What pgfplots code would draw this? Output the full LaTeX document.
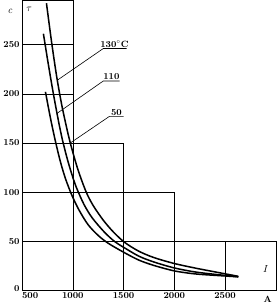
\documentclass[border=0pt]{standalone}
\usepackage{pgfplots}
\pgfplotsset{compat=1.18}
\begin{document}
\begin{tikzpicture}
\begin{axis}[
  scale only axis, width=250bp, height=286bp,
  xmin=500, xmax=3000, ymin=0, ymax=295,
  axis lines*=left, axis line style={line width=0.6pt},
  xtick={500,1000,1500,2000,2500}, ytick={0,50,100,150,200,250},
  xticklabels={\makebox[0pt][l]{500},1000,1500,2000,2500},
  yticklabels={\raisebox{4pt}{0},50,100,150,200,250},
  tick style={draw=none},
  tick label style={font=\small\bfseries},
  xticklabel style={yshift=2pt},
  yticklabel style={xshift=1pt},
  clip=false,
]
% staircase grid
\draw[line width=0.6pt] (axis cs:500,295) -- (axis cs:1000,295) -- (axis cs:1000,0);
\draw[line width=0.5pt] (axis cs:500,250) -- (axis cs:1000,250);
\draw[line width=0.5pt] (axis cs:500,200) -- (axis cs:1000,200);
\draw[line width=0.5pt] (axis cs:500,150) -- (axis cs:1500,150) -- (axis cs:1500,0);
\draw[line width=0.5pt] (axis cs:500,100) -- (axis cs:2000,100) -- (axis cs:2000,0);
\draw[line width=0.5pt] (axis cs:500,50) -- (axis cs:3000,50) -- (axis cs:3000,0);
\draw[line width=0.5pt] (axis cs:2500,50) -- (axis cs:2500,0);
% curves: 130 C
\addplot[black, line width=1.5pt, smooth] coordinates {
(740,292) (790,253) (840,218) (890,189) (940,165) (980,148) (1050,123) (1130,100.5) (1200,86.5) (1300,71.5) (1400,59.5) (1510,49) (1650,40) (1800,33.5) (2000,27.5) (2200,23) (2400,19) (2630,14.5)};
% 110 C
\addplot[black, line width=1.5pt, smooth] coordinates {
(710,261) (760,229) (810,199) (860,171.5) (900,152) (950,132) (1000,115) (1040,103.5) (1110,87.5) (1190,74) (1310,59.5) (1410,50) (1500,44) (1650,35) (1800,29) (2000,23) (2200,19) (2400,16.5) (2630,14)};
% 50 C
\addplot[black, line width=1.5pt, smooth] coordinates {
(730,202) (780,175) (830,151) (880,130) (930,113) (990,97) (1060,82) (1150,67) (1250,56) (1350,48) (1500,39) (1650,31) (1800,25.5) (2000,20) (2200,17) (2400,15.5) (2630,14)};
% labels with leaders
\draw[line width=0.6pt] (axis cs:1530,246) -- (axis cs:1300,246) -- (axis cs:850,214);
\node[anchor=south, font=\small\bfseries, inner sep=1pt] at (axis cs:1410,246) {130$^\circ$C};
\draw[line width=0.6pt] (axis cs:1460,213) -- (axis cs:1300,213) -- (axis cs:843,180);
\node[anchor=south, font=\small\bfseries, inner sep=1pt] at (axis cs:1380,213) {110};
\draw[line width=0.6pt] (axis cs:1500,177) -- (axis cs:1360,177) -- (axis cs:975,150);
\node[anchor=south, font=\small\bfseries, inner sep=1pt] at (axis cs:1430,177) {50};
% axis names / units
\node[font=\normalsize\itshape] at (axis cs:380,284) {c};
\node[font=\normalsize] at (axis cs:570,286) {$\tau$};
\node[font=\normalsize] at (axis cs:2900,22) {$I$};
\node[font=\small\bfseries] at (axis cs:2920,-9) {A};
\end{axis}
\end{tikzpicture}
\end{document}
